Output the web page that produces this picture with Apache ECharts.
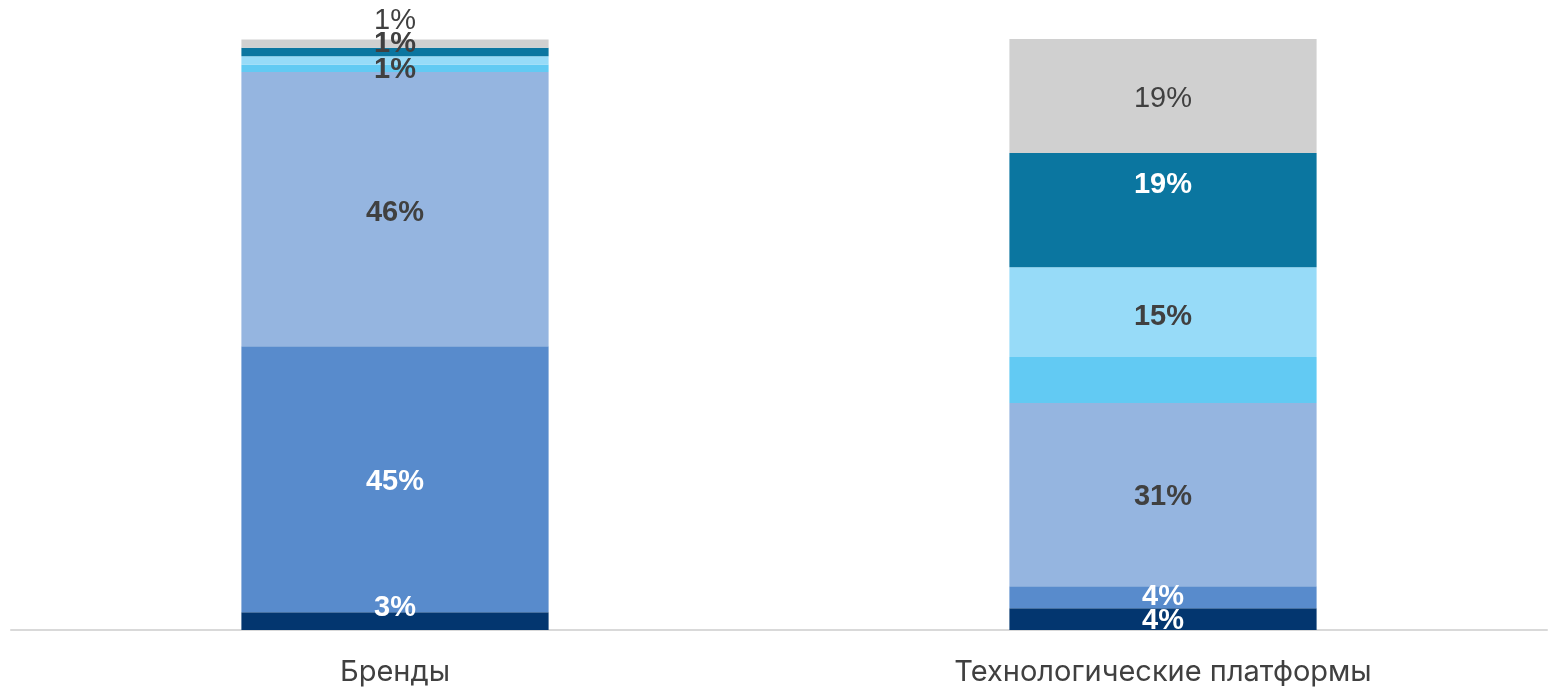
<!DOCTYPE html>
<html><head><meta charset="utf-8">
<script src="https://cdn.jsdelivr.net/npm/echarts@6/dist/echarts.min.js"></script>
<style>html,body{margin:0;padding:0;background:#fff}#c{width:1558px;height:688px}</style>
</head><body><div id="c"></div>
<script>
const categories = ['Бренды', 'Технологические платформы'];
const seriesNames = ['s1', 's2', 's3', 's4', 's5', 's6', 's7'];
const s1 = [3.0, 3.7];
const s2 = [45.0, 3.7];
const s3 = [46.4, 31.0];
const s4 = [1.3, 7.8];
const s5 = [1.4, 15.2];
const s6 = [1.4, 19.3];
const s7 = [1.4, 19.3];
const values = [s1, s2, s3, s4, s5, s6, s7];

const colors = ['#03366F', '#588BCC', '#95B5E0', '#62CAF3', '#97DBF8', '#0B76A0', '#D0D0D0'];
const labelColors = ['#ffffff', '#ffffff', '#404040', '#404040', '#404040', '#ffffff', '#404040'];
const showLabel = [true, true, true, false, true, true, true];
// per-item label tweaks [brands, tech]
const itemLabel = [
  [{offset: [0, -13]}, {offset: [0, 2]}],
  [{offset: [0, 3]}, {offset: [0, 0]}],
  [{offset: [0, 4]}, {offset: [0, 2]}],
  [{}, {}],
  [{offset: [0, 10], color: '#404040'}, {offset: [0, 5]}],
  [{offset: [0, -8], color: '#404040'}, {offset: [0, -25]}],
  [{position: 'top', offset: [0, 1], fontWeight: 'normal'}, {fontWeight: 'normal', offset: [0, 3]}]
];

const series = values.map((vals, i) => ({
  name: seriesNames[i],
  type: 'bar',
  stack: 'total',
  barWidth: '40%',
  itemStyle: {color: colors[i]},
  label: {
    show: showLabel[i],
    position: 'inside',
    color: labelColors[i],
    fontFamily: 'Liberation Sans, Arial, sans-serif',
    fontSize: 29,
    fontWeight: 'bold',
    formatter: p => Math.round(p.value) + '%'
  },
  data: vals.map((v, j) => ({value: v, label: itemLabel[i][j]}))
}));

const chart = echarts.init(document.getElementById('c'));
chart.setOption({
  animation: false,
  grid: {left: 11, right: 11, top: 39, bottom: 58},
  xAxis: {
    type: 'category',
    data: categories,
    axisTick: {show: false},
    axisLine: {lineStyle: {color: '#D9D9D9', width: 2}},
    axisLabel: {color: '#404040', fontSize: 29, fontFamily: 'Inter, Roboto, sans-serif', margin: 28}
  },
  yAxis: {type: 'value', min: 0, max: 100, show: false, splitLine: {show: false}},
  series: series
});
</script></body></html>
